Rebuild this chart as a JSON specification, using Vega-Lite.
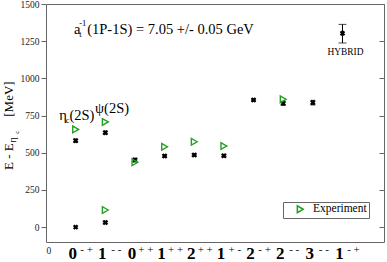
{
  "$schema": "https://vega.github.io/schema/vega-lite/v6.json",
  "width": 338,
  "height": 238,
  "autosize": {"type": "none"},
  "padding": {"left": 46, "top": 4, "right": 3, "bottom": 20},
  "background": "white",
  "config": {
    "view": {"stroke": "#666", "strokeWidth": 1},
    "font": "Liberation Serif",
    "text": {"font": "Liberation Serif", "color": "black"}
  },
  "datasets": {
    "lat": [
      {"k": 1, "v": 0},
      {"k": 1, "v": 581},
      {"k": 2, "v": 31},
      {"k": 2, "v": 635},
      {"k": 3, "v": 451},
      {"k": 4, "v": 478},
      {"k": 5, "v": 485},
      {"k": 6, "v": 480},
      {"k": 7, "v": 855},
      {"k": 8, "v": 832},
      {"k": 9, "v": 837},
      {"k": 10, "v": 1303}
    ],
    "err": [
      {"k": 1, "lo": 571, "hi": 591},
      {"k": 2, "lo": 24, "hi": 38},
      {"k": 2, "lo": 626, "hi": 644},
      {"k": 3, "lo": 440, "hi": 462},
      {"k": 4, "lo": 471, "hi": 485},
      {"k": 5, "lo": 478, "hi": 492},
      {"k": 6, "lo": 473, "hi": 487},
      {"k": 7, "lo": 848, "hi": 862},
      {"k": 8, "lo": 820, "hi": 844},
      {"k": 9, "lo": 823, "hi": 851}
    ],
    "hyb": [
      {"k": 10, "lo": 1238, "hi": 1363}
    ],
    "exp": [
      {"k": 1, "v": 657},
      {"k": 2, "v": 115},
      {"k": 2, "v": 707},
      {"k": 3, "v": 436},
      {"k": 4, "v": 540},
      {"k": 5, "v": 574},
      {"k": 6, "v": 545},
      {"k": 8, "v": 859}
    ],
    "xl": [
      {"k": 1, "d": "0", "s": "- +"},
      {"k": 2, "d": "1", "s": "- -"},
      {"k": 3, "d": "0", "s": "+ +"},
      {"k": 4, "d": "1", "s": "+ +"},
      {"k": 5, "d": "2", "s": "+ +"},
      {"k": 6, "d": "1", "s": "+ -"},
      {"k": 7, "d": "2", "s": "- +"},
      {"k": 8, "d": "2", "s": "- -"},
      {"k": 9, "d": "3", "s": "- -"},
      {"k": 10, "d": "1", "s": "- +"}
    ],
    "main": [
      {"k": 0.944, "v": 1301, "t": "a"},
      {"k": 1.39, "v": 1301, "t": "(1P-1S) = 7.05 +/- 0.05 GeV"},
      {"k": 0.449, "v": 723, "t": "η"},
      {"k": 0.79, "v": 723, "t": "(2S)"},
      {"k": 1.653, "v": 767, "t": "ψ(2S)"}
    ],
    "sub": [
      {"k": 1.12, "v": 1301, "t": "t"},
      {"k": 0.67, "v": 723, "t": "c"}
    ],
    "sup": [
      {"k": 1.12, "v": 1301, "t": "-1"}
    ],
    "hlab": [
      {"k": 10.1, "v": 1160, "t": "HYBRID"}
    ],
    "ytitle": [
      {"k": -1.1, "v": 384, "t": "E - E"},
      {"k": -1.1, "v": 742, "t": "[MeV]"}
    ],
    "ytsub": [
      {"k": -1.1, "v": 569, "t": "η"}
    ],
    "ytsub2": [
      {"k": -1.1, "v": 628, "t": "c"}
    ]
  },
  "encoding": {
    "x": {
      "field": "k",
      "type": "quantitative",
      "scale": {"domain": [0, 11.4], "nice": false, "zero": false},
      "axis": {
        "values": [0],
        "ticks": false,
        "tickSize": 0,
        "domain": false,
        "grid": false,
        "title": null,
        "labelFont": "Liberation Serif",
        "labelFontSize": 9.5,
        "labelColor": "#222",
        "labelPadding": 3
      }
    }
  },
  "layer": [
    {
      "data": {"name": "lat"},
      "mark": {"type": "point", "shape": "cross", "angle": 45, "filled": true, "color": "black", "size": 30, "opacity": 1},
      "encoding": {
        "y": {
          "field": "v",
          "type": "quantitative",
          "scale": {"domain": [-100, 1500], "nice": false, "zero": false},
          "axis": {
            "orient": "left",
            "values": [0, 250, 500, 750, 1000, 1250, 1500],
            "format": "d",
            "tickSize": 5,
            "tickColor": "#666",
            "domain": false,
            "grid": false,
            "title": null,
            "labelFont": "Liberation Serif",
            "labelFontSize": 9.5,
            "labelColor": "#222",
            "labelPadding": 2
          }
        }
      }
    },
    {
      "data": {"name": "err"},
      "mark": {"type": "rule", "color": "black", "strokeWidth": 1},
      "encoding": {
        "y": {
          "field": "lo",
          "type": "quantitative",
          "scale": {"domain": [-100, 1500], "nice": false, "zero": false},
          "axis": {
            "orient": "right",
            "values": [0, 250, 500, 750, 1000, 1250, 1500],
            "tickSize": -5,
            "tickColor": "#666",
            "labels": false,
            "domain": false,
            "grid": false,
            "title": null
          }
        },
        "y2": {"field": "hi"}
      }
    },
    {
      "data": {"name": "err"},
      "mark": {"type": "tick", "orient": "horizontal", "color": "black", "size": 5, "thickness": 1.5},
      "encoding": {
        "y": {"field": "lo", "type": "quantitative", "scale": {"domain": [-100, 1500], "nice": false, "zero": false}, "axis": null}
      }
    },
    {
      "data": {"name": "err"},
      "mark": {"type": "tick", "orient": "horizontal", "color": "black", "size": 5, "thickness": 1.5},
      "encoding": {
        "y": {"field": "hi", "type": "quantitative", "scale": {"domain": [-100, 1500], "nice": false, "zero": false}, "axis": null}
      }
    },
    {
      "data": {"name": "hyb"},
      "mark": {"type": "rule", "color": "black", "strokeWidth": 1},
      "encoding": {
        "y": {"field": "lo", "type": "quantitative", "scale": {"domain": [-100, 1500], "nice": false, "zero": false}, "axis": null},
        "y2": {"field": "hi"}
      }
    },
    {
      "data": {"name": "hyb"},
      "mark": {"type": "tick", "orient": "horizontal", "color": "black", "size": 8, "thickness": 1},
      "encoding": {
        "y": {"field": "lo", "type": "quantitative", "scale": {"domain": [-100, 1500], "nice": false, "zero": false}, "axis": null}
      }
    },
    {
      "data": {"name": "hyb"},
      "mark": {"type": "tick", "orient": "horizontal", "color": "black", "size": 8, "thickness": 1},
      "encoding": {
        "y": {"field": "hi", "type": "quantitative", "scale": {"domain": [-100, 1500], "nice": false, "zero": false}, "axis": null}
      }
    },
    {
      "data": {"name": "exp"},
      "mark": {"type": "point", "filled": false, "stroke": "#22a022", "strokeWidth": 1.4, "size": 45, "opacity": 1},
      "encoding": {
        "y": {"field": "v", "type": "quantitative", "scale": {"domain": [-100, 1500], "nice": false, "zero": false}, "axis": null},
        "shape": {
          "datum": "Experiment",
          "type": "nominal",
          "scale": {"range": ["triangle-right"]},
          "legend": {
            "orient": "none",
            "legendX": 237,
            "legendY": 198,
            "title": null,
            "padding": 1.5,
            "strokeColor": "#666",
            "fillColor": "white",
            "cornerRadius": 0,
            "labelFont": "Liberation Serif",
            "labelFontSize": 11.5,
            "labelColor": "black",
            "symbolSize": 45,
            "symbolType": "triangle-right",
            "symbolStrokeColor": "#22a022",
            "symbolFillColor": "transparent",
            "symbolStrokeWidth": 1.5,
            "symbolOffset": 10,
            "labelOffset": 7
          }
        }
      }
    },
    {
      "data": {"name": "main"},
      "mark": {"type": "text", "align": "left", "baseline": "alphabetic", "fontSize": 14.5, "font": "Liberation Serif", "color": "black"},
      "encoding": {
        "y": {"field": "v", "type": "quantitative", "scale": {"domain": [-100, 1500], "nice": false, "zero": false}, "axis": null},
        "text": {"field": "t"}
      }
    },
    {
      "data": {"name": "sub"},
      "mark": {"type": "text", "align": "left", "baseline": "alphabetic", "fontSize": 8.5, "dy": 3, "font": "Liberation Serif", "color": "black"},
      "encoding": {
        "y": {"field": "v", "type": "quantitative", "scale": {"domain": [-100, 1500], "nice": false, "zero": false}, "axis": null},
        "text": {"field": "t"}
      }
    },
    {
      "data": {"name": "sup"},
      "mark": {"type": "text", "align": "left", "baseline": "alphabetic", "fontSize": 8.5, "dy": -8, "font": "Liberation Serif", "color": "black"},
      "encoding": {
        "y": {"field": "v", "type": "quantitative", "scale": {"domain": [-100, 1500], "nice": false, "zero": false}, "axis": null},
        "text": {"field": "t"}
      }
    },
    {
      "data": {"name": "hlab"},
      "mark": {"type": "text", "align": "center", "baseline": "alphabetic", "fontSize": 9.4, "font": "Liberation Serif", "color": "black"},
      "encoding": {
        "y": {"field": "v", "type": "quantitative", "scale": {"domain": [-100, 1500], "nice": false, "zero": false}, "axis": null},
        "text": {"field": "t"}
      }
    },
    {
      "data": {"name": "ytitle"},
      "mark": {"type": "text", "align": "left", "baseline": "alphabetic", "angle": 270, "fontSize": 13, "font": "Liberation Serif", "color": "black"},
      "encoding": {
        "y": {"field": "v", "type": "quantitative", "scale": {"domain": [-100, 1500], "nice": false, "zero": false}, "axis": null},
        "text": {"field": "t"}
      }
    },
    {
      "data": {"name": "ytsub"},
      "mark": {"type": "text", "align": "left", "baseline": "alphabetic", "angle": 270, "fontSize": 10, "dy": 3, "font": "Liberation Serif", "color": "black"},
      "encoding": {
        "y": {"field": "v", "type": "quantitative", "scale": {"domain": [-100, 1500], "nice": false, "zero": false}, "axis": null},
        "text": {"field": "t"}
      }
    },
    {
      "data": {"name": "ytsub2"},
      "mark": {"type": "text", "align": "left", "baseline": "alphabetic", "angle": 270, "fontSize": 7, "dy": 6, "font": "Liberation Serif", "color": "black"},
      "encoding": {
        "y": {"field": "v", "type": "quantitative", "scale": {"domain": [-100, 1500], "nice": false, "zero": false}, "axis": null},
        "text": {"field": "t"}
      }
    },
    {
      "data": {"name": "xl"},
      "mark": {"type": "text", "align": "center", "baseline": "alphabetic", "fontSize": 17, "fontWeight": "bold", "dx": -3, "dy": 17, "font": "Liberation Serif", "color": "black"},
      "encoding": {
        "y": {"datum": -100, "type": "quantitative", "scale": {"domain": [-100, 1500], "nice": false, "zero": false}, "axis": null},
        "text": {"field": "d"}
      }
    },
    {
      "data": {"name": "xl"},
      "mark": {"type": "text", "align": "center", "baseline": "alphabetic", "fontSize": 11, "dx": 11, "dy": 10.5, "font": "Liberation Serif", "color": "black"},
      "encoding": {
        "y": {"datum": -100, "type": "quantitative", "scale": {"domain": [-100, 1500], "nice": false, "zero": false}, "axis": null},
        "text": {"field": "s"}
      }
    }
  ],
  "resolve": {"axis": {"y": "independent"}}
}
